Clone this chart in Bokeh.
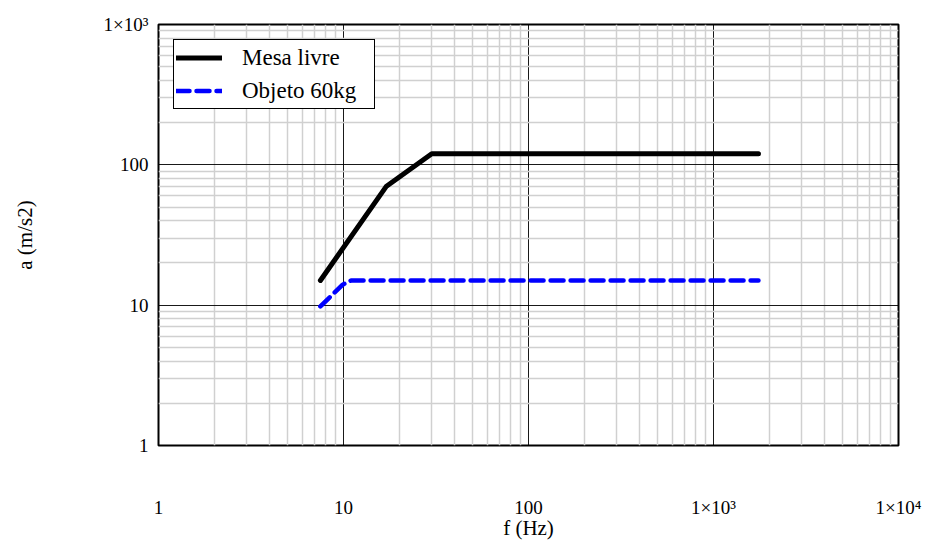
from bokeh.plotting import figure
from bokeh.models import FixedTicker, CustomJSTickFormatter, Legend, LegendItem
from bokeh.embed import file_html
from bokeh.resources import INLINE

# Data
mesa_f = [7.5, 17, 30, 1750]
mesa_a = [15, 70, 120, 120]
obj_f = [7.5, 9.9, 11, 1750]
obj_a = [9.8, 14, 15, 15]

major_ticks = [1, 10, 100, 1000, 10000]
minor_ticks = [m * 10 ** k for k in range(0, 4) for m in range(2, 10)]
y_major = [1, 10, 100, 1000]
y_minor = [m * 10 ** k for k in range(0, 3) for m in range(2, 10)]

FONT = "Liberation Serif"

p = figure(width=932, height=544, x_axis_type="log", y_axis_type="log",
           x_range=(1, 1e4), y_range=(1, 1e3),
           output_backend="svg", toolbar_location=None,
           min_border_left=158, min_border_right=34, min_border_top=24, min_border_bottom=99)
p.frame_width = 740
p.frame_height = 421

fmt = CustomJSTickFormatter(code="""
const e = Math.round(Math.log10(tick));
const sup = {'0':'\u2070','1':'\u00b9','2':'\u00b2','3':'\u00b3','4':'\u2074'};
if (e >= 3) { return '1\u00d710' + String(e).split('').map(c => sup[c]).join(''); }
return String(Math.round(tick));
""")

p.xaxis.ticker = FixedTicker(ticks=major_ticks, minor_ticks=minor_ticks)
p.yaxis.ticker = FixedTicker(ticks=y_major, minor_ticks=y_minor)
for ax in (p.xaxis[0], p.yaxis[0]):
    ax.formatter = fmt
    ax.major_tick_line_color = None
    ax.minor_tick_line_color = None
    ax.axis_line_color = None
    ax.major_label_text_font = FONT
    ax.major_label_text_font_size = "19px"
    ax.major_label_text_color = "black"
    ax.axis_label_text_font = FONT
    ax.axis_label_text_font_size = "21px"
    ax.axis_label_text_font_style = "normal"
    ax.axis_label_text_color = "black"

p.xaxis.axis_label = "f (Hz)"
p.yaxis.axis_label = "a (m/s2)"
p.xaxis.major_label_standoff = 45
p.xaxis.axis_label_standoff = -5
p.yaxis.major_label_standoff = 4
p.yaxis.axis_label_standoff = 64

for g in (p.xgrid[0], p.ygrid[0]):
    g.grid_line_color = "black"
    g.grid_line_width = 1
    g.grid_line_alpha = 0.9
    g.minor_grid_line_color = "#d0d0d0"
    g.minor_grid_line_width = 1.5

p.outline_line_color = "black"
p.outline_line_width = 2
p.background_fill_color = "white"
p.border_fill_color = "white"

r1 = p.line(mesa_f, mesa_a, line_color="black", line_width=5, line_cap="round", line_join="round")
r2 = p.line(obj_f, obj_a, line_color="#0000ff", line_width=4.5, line_dash="13 7",
            line_cap="round", line_join="round")

legend = Legend(items=[LegendItem(label="Mesa livre", renderers=[r1]),
                       LegendItem(label="Objeto 60kg", renderers=[r2])],
                location="top_left")
legend.label_text_font = FONT
legend.label_text_font_size = "23px"
legend.label_text_color = "black"
legend.border_line_color = "black"
legend.border_line_width = 1.5
legend.border_line_alpha = 1
legend.background_fill_alpha = 1
legend.margin = 15
legend.padding = 2
legend.spacing = 2
legend.glyph_width = 46
legend.glyph_height = 31
legend.label_standoff = 20
legend.label_width = 130
p.add_layout(legend)

open("out.html", "w").write(file_html(p, INLINE))
